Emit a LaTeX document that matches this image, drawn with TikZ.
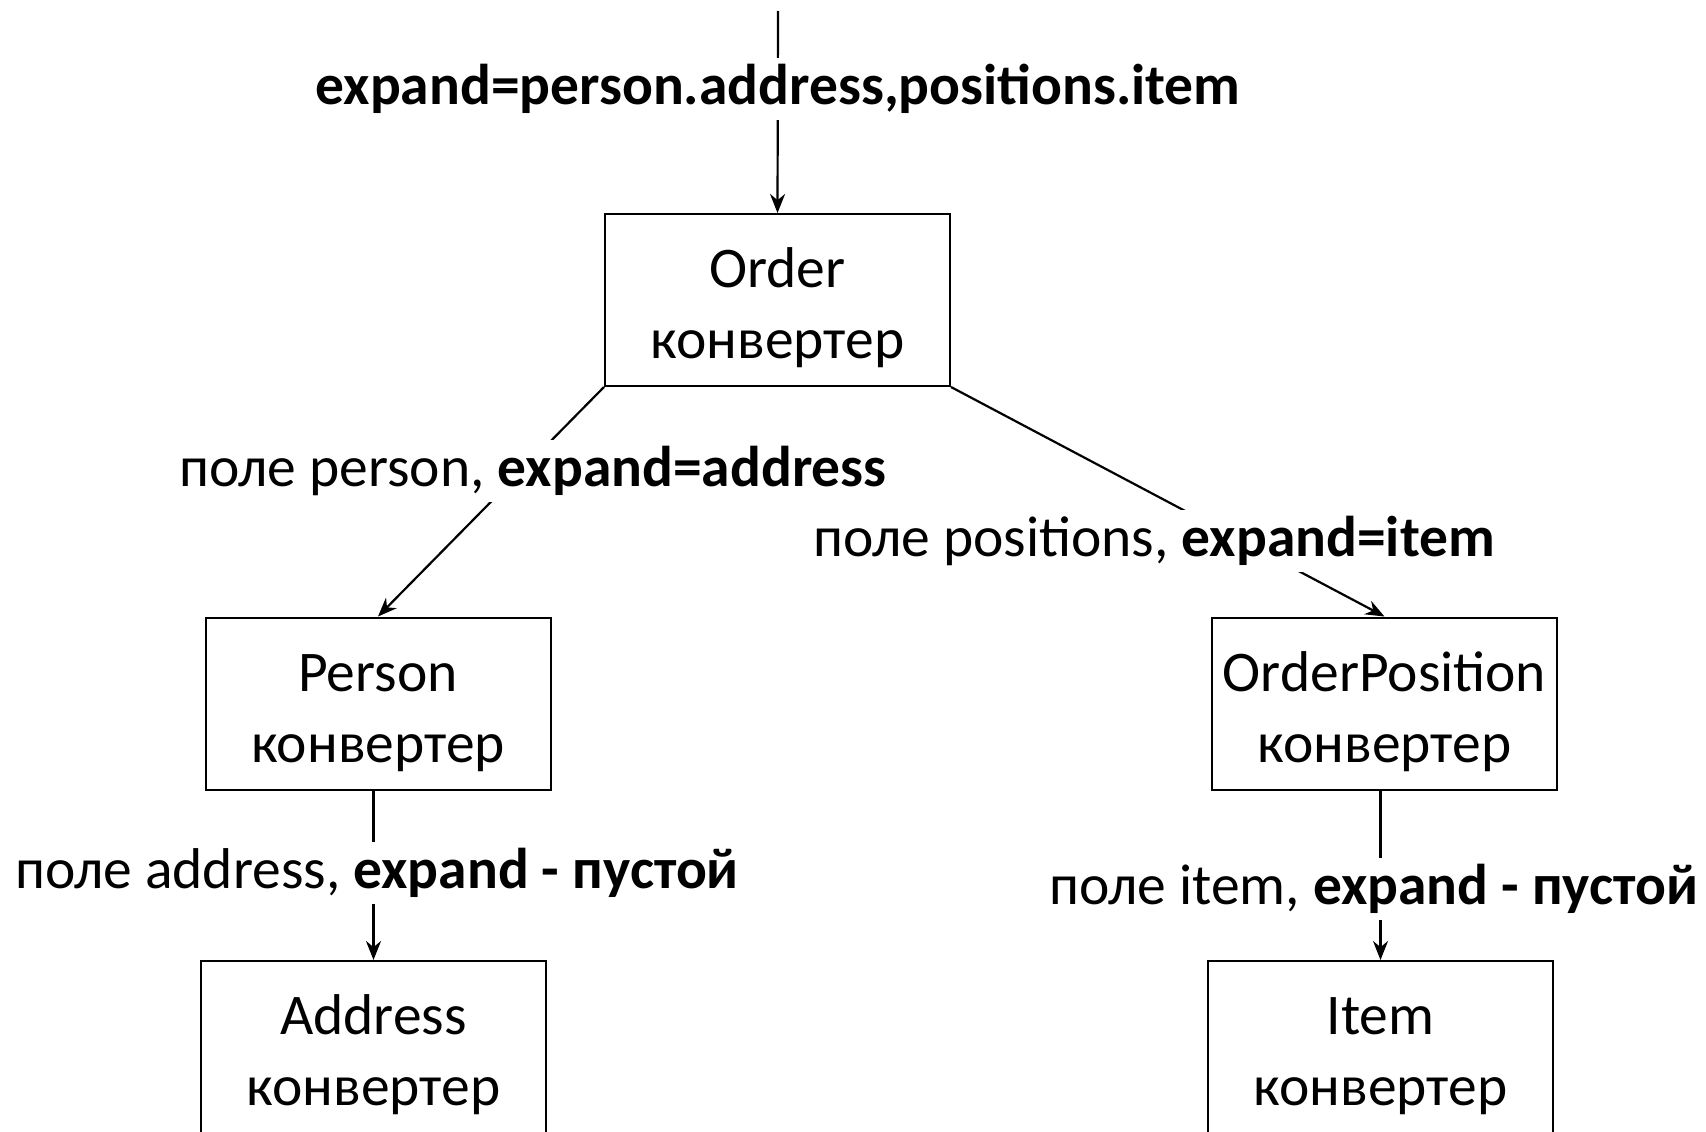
\documentclass[tikz,border=0pt]{standalone}
\usepackage{fontspec}
\setmainfont{Carlito}
\usetikzlibrary{arrows.meta}
\newcommand\boxstrut{\rule{0pt}{56pt}}
\begin{document}
\begin{tikzpicture}[x=1pt,y=-1pt,
  box/.style={draw, line width=2pt, minimum width=345pt, minimum height=172pt, inner sep=0pt, align=center, font=\fontsize{57.5}{71}\selectfont},
  lbl/.style={fill=white, inner xsep=2pt, inner ysep=6pt, font=\fontsize{57.5}{68}\selectfont},
  conn/.style={line width=2.2pt, -{Stealth[length=19pt,width=15pt]}}]
\useasboundingbox[fill=white] (0,0) rectangle (1706,1132);
\node[box] (order) at (777.5,300) {\boxstrut Order\\конвертер};
\node[box] (person) at (378,703.5) {\boxstrut Person\\конвертер};
\node[box] (orderpos) at (1384.5,703.5) {\boxstrut OrderPosition\\конвертер};
\node[box] (address) at (373.5,1047) {\boxstrut Address\\конвертер};
\node[box] (item) at (1380.5,1047) {\boxstrut Item\\конвертер};
\coordinate (start) at (778,11);
\draw[conn] (start) -- (order.north);
\draw[conn] (order.south west) -- (person.north);
\draw[conn] (order.south east) -- (orderpos.north);
\draw[conn] (person.south -| address.north) -- (address.north);
\draw[conn] (orderpos.south -| item.north) -- (item.north);
\node[lbl] (ltop) at (778,89) {\textbf{expand=person.address,positions.item}};
\node[lbl] (lperson) at (533,471) {поле person, \textbf{expand=address}};
\node[lbl] (lpos) at (1154,541) {поле positions, \textbf{expand=item}};
\node[lbl] (laddr) at (377,873) {поле address, \textbf{expand - пустой}};
\node[lbl] (litem) at (1374,889) {поле item, \textbf{expand - пустой}};
\end{tikzpicture}
\end{document}
